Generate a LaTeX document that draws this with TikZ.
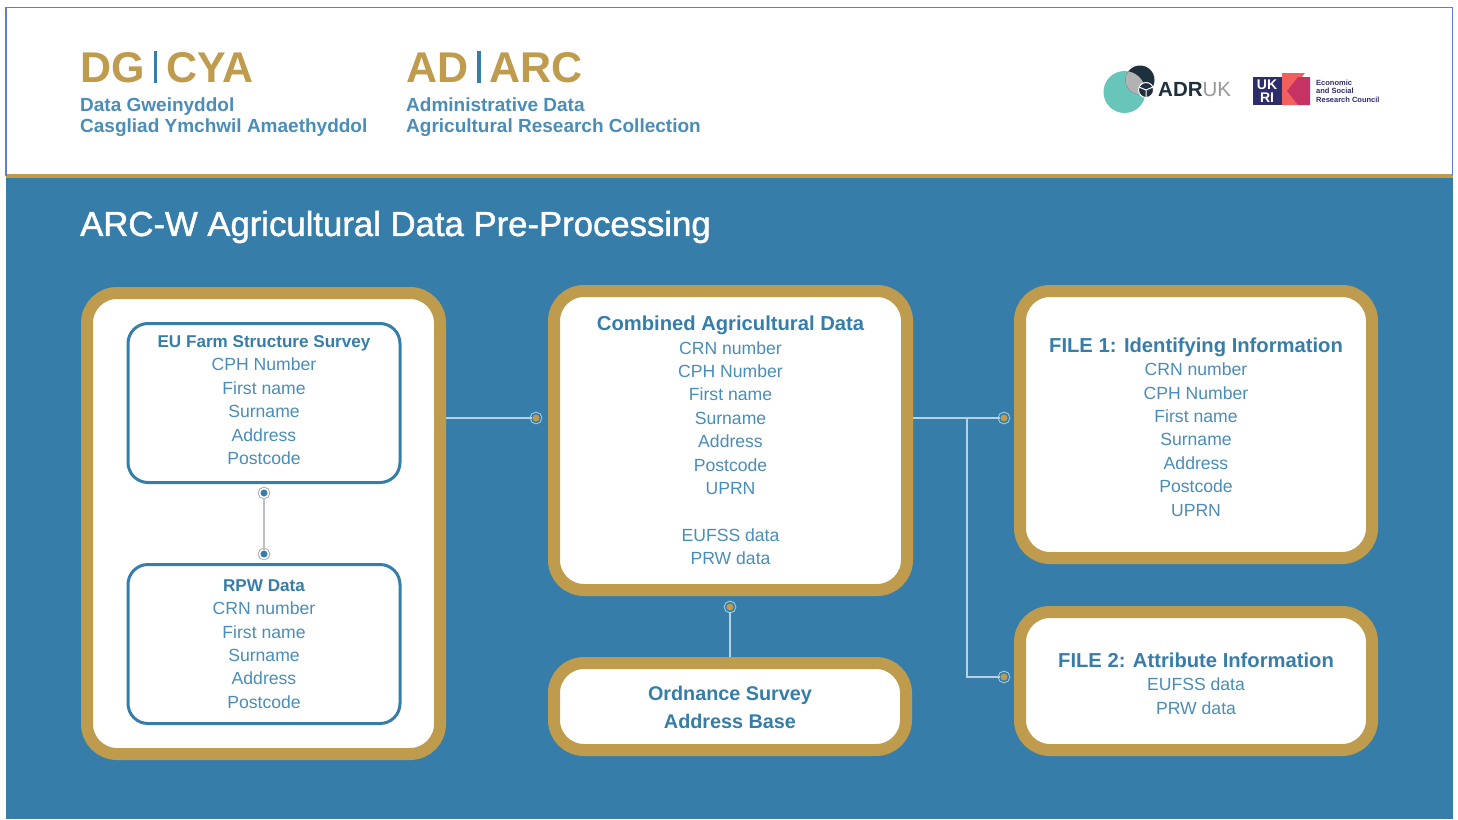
\documentclass[tikz,border=0pt]{standalone}
\usepackage{fontspec}
\setmainfont{Liberation Sans}
\newfontfamily\titlefont[FakeBold=1.4]{Liberation Sans}
\definecolor{gold}{HTML}{BF9B4E}
\definecolor{arcblue}{HTML}{367EA9}
\definecolor{headblue}{HTML}{4A8DB8}
\definecolor{framec}{HTML}{5B82CC}
\definecolor{wire}{HTML}{B5D2E2}
\definecolor{teal}{HTML}{68C5B9}
\definecolor{navy}{HTML}{1E2F3E}
\definecolor{ukri}{HTML}{2E2D6B}
\definecolor{coral}{HTML}{F2605E}
\definecolor{plum}{HTML}{C73264}
\tikzset{ outerbox/.style = { rectangle % gold framed box
        , rounded corners = 30pt
        , draw = gold
        , fill = white
        , line width = 12pt
        , inner sep = 0pt
        , align = center
        , text = headblue
        , font = \fontsize{17.6}{23.4}\selectfont
        }
        , innerbox/.style = { rectangle % blue framed box
        , rounded corners = 20pt
        , draw = arcblue
        , line width = 3pt
        , inner sep = 0pt
        , align = center
        , text = headblue
        , minimum width = 272pt
        , minimum height = 159pt
        , font = \fontsize{17.6}{23.4}\selectfont
        }
        , plain/.style = { inner sep = 0pt, anchor = west, text = arcblue }
        , wiredot/.style = { circle, draw = arcblue, fill = gold, line width = 1.6pt
        , preaction = {draw = wire, line width = 3.4pt}
        , inner sep = 0pt, outer sep = 0pt, minimum size = 9pt }
        , graydot/.style = { circle, draw = white, fill = arcblue, line width = 1.6pt
        , preaction = {draw = black!35, line width = 3.4pt}
        , inner sep = 0pt, outer sep = 0pt, minimum size = 9pt }
        }
\newcommand{\ttl}[2][20.2]{{\color{arcblue}\fontsize{#1}{24}\selectfont\bfseries #2}}
\begin{document}
\begin{tikzpicture}[x=1pt,y=-1pt,
        wire_style/.style={draw=wire,line width=1.2pt},
        graywire_style/.style={draw=black!25,line width=1.2pt}]
        \useasboundingbox (0,0) rectangle (1458,819);
        % header and background
        \fill[white] (0,0) rectangle (1458,819);
        \fill[arcblue] (6,176) rectangle (1453,819);
        \fill[gold] (6,174) rectangle (1453,178);
        \draw[framec,line width=1.5pt] (6,176) -- (6,7.5) -- (1452.5,7.5) -- (1452.5,176);

        \node [plain,font=\fontsize{43}{43}\selectfont\bfseries] (dg) at (80,67)
            {\textcolor{gold}{DG}\hspace{9pt}\textcolor{arcblue}{\rule[-1pt]{3.5pt}{32pt}}\hspace{9pt}\textcolor{gold}{CYA}};
        \node [plain,font=\fontsize{43}{43}\selectfont\bfseries] (ad) at (406,67)
            {\textcolor{gold}{AD}\hspace{9pt}\textcolor{arcblue}{\rule[-1pt]{3.5pt}{32pt}}\hspace{9pt}\textcolor{gold}{ARC}};
        \node [plain,align=left,text=headblue,font=\fontsize{19}{21.5}\selectfont\bfseries] (dgtext) at (80,117)
            {Data Gweinyddol\\Casgliad Ymchwil Amaethyddol};
        \node [plain,align=left,text=headblue,font=\fontsize{19}{21.5}\selectfont\bfseries] (adtext) at (406,117)
            {Administrative Data\\Agricultural Research Collection};
        \node [plain,text=white,font=\titlefont\fontsize{34.7}{35}\selectfont] (title) at (80,227)
            {ARC-W Agricultural Data Pre-Processing};

        % logos
        \fill[teal] (1124.5,92) circle (21);
        \fill[navy] (1140,80) circle (14.5);
        \begin{scope}
            \clip (1124.5,92) circle (21);
            \fill[black!30] (1140,80) circle (14.5);
        \end{scope}
        \draw[white,line width=1pt,fill=navy] (1146,90) circle (7.5);
        \draw[white,line width=1pt] (1146,90) -- (1146,97) (1146,90) -- (1139,87) (1146,90) -- (1153,87);
        \node [plain,text=navy,font=\fontsize{20.5}{20.5}\selectfont\bfseries] (adr) at (1158,90)
            {ADR\textcolor{black!40}{\mdseries UK}};
        \fill[ukri] (1253,77) rectangle (1282,105);
        \node [inner sep=0pt,align=center,text=white,font=\fontsize{14}{13}\selectfont\bfseries] (ukrt) at (1267,91) {UK\\RI};
        \fill[coral] (1282,73) -- (1305,73) -- (1298,82) -- (1298,105) -- (1282,105) -- cycle;
        \fill[plum] (1298,77) -- (1310,77) -- (1310,105) -- (1298,105) -- (1287,91) -- cycle;
        \node [plain,align=left,text=ukri,font=\fontsize{7.5}{8.5}\selectfont\bfseries] (esrc) at (1316,91)
            {Economic\\and Social\\Research Council};

        % boxes
        \node [outerbox,minimum width=353pt,minimum height=461pt] (left) at (263.5,523.5) {};
        \node [outerbox,minimum width=353pt,minimum height=299pt] (center) at (730.5,440.5)
            {\ttl{Combined Agricultural Data}\\CRN number\\CPH Number\\First name\\Surname\\Address\\Postcode\\UPRN\\[23.4pt]EUFSS data\\PRW data};
        \node [outerbox,minimum width=352pt,minimum height=87pt,text=arcblue,font=\fontsize{19.8}{28}\selectfont\bfseries] (os) at (730,706.5)
            {\rule{0pt}{17pt}Ordnance Survey\\Address Base};
        \node [outerbox,minimum width=352pt,minimum height=267pt] (file1) at (1196,424.5)
            {\rule{0pt}{19.5pt}\ttl{FILE 1: Identifying Information}\\CRN number\\CPH Number\\First name\\Surname\\Address\\Postcode\\UPRN};
        \node [outerbox,minimum width=352pt,minimum height=138pt] (file2) at (1196,681)
            {\rule{0pt}{19.5pt}\ttl{FILE 2: Attribute Information}\\EUFSS data\\PRW data};
        \node [innerbox] (eu) at (264,403)
            {\ttl[17.1]{EU Farm Structure Survey}\\CPH Number\\First name\\Surname\\Address\\Postcode\rule[-6pt]{0pt}{0pt}};
        \node [innerbox] (rpw) at (264,644)
            {\ttl[17.1]{RPW Data}\\CRN number\\First name\\Surname\\Address\\Postcode};

        % connectors
        \node [wiredot] (dotcentre) at (536,418) {};
        \node [wiredot] (dotfile) at (1004,418) {};
        \node [wiredot] (dotattr) at (1004,677) {};
        \node [wiredot] (dotos) at (730,607) {};
        \node [graydot] (doteu) at (264,493) {};
        \node [graydot] (dotrpw) at (264,554) {};
        \coordinate (junc) at (967,418);
        \draw [wire_style] (left.east |- dotcentre) -- (dotcentre);
        \draw [wire_style] (center.east |- dotfile) -- (dotfile);
        \draw [wire_style] (junc) |- (dotattr);
        \draw [wire_style] (dotos) -- (os.north);
        \draw [graywire_style] (doteu) -- (dotrpw);
\end{tikzpicture}
\end{document}
